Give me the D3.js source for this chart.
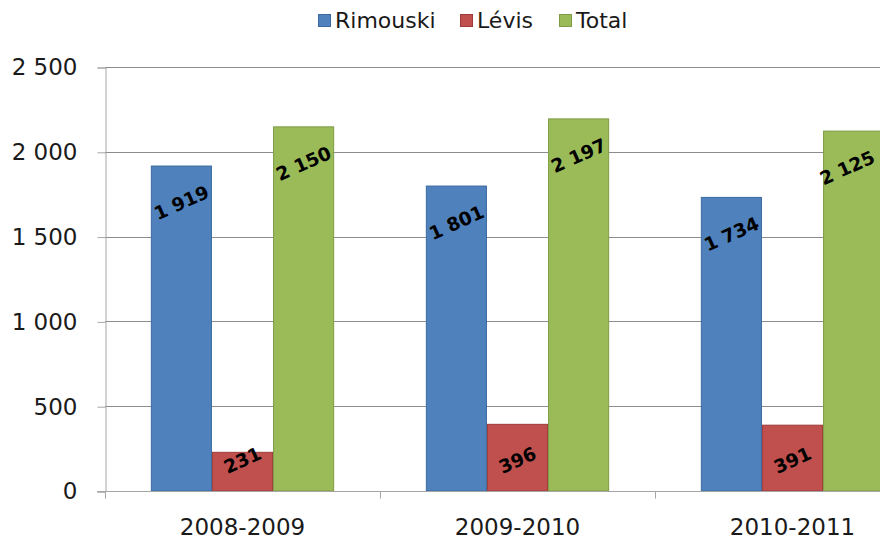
<!DOCTYPE html>
<html><head><meta charset="utf-8">
<script src="https://cdn.jsdelivr.net/npm/d3@7"></script>
<style>
html,body{margin:0;padding:0;background:#fff;overflow:hidden}
svg{display:block;font-family:"DejaVu Sans",sans-serif}
</style></head>
<body>
<script>
const categories = ["2008-2009", "2009-2010", "2010-2011"];
const seriesNames = ["Rimouski", "Lévis", "Total"];
const rimouski = [1919, 1801, 1734];
const levis = [231, 396, 391];
const total = [2150, 2197, 2125];
const yTicks = [0, 500, 1000, 1500, 2000, 2500];
const colors = ["#4F81BD", "#C0504D", "#9BBB59"];
const strokes = ["#3C6A9E", "#9E3B38", "#7E9B45"];

const W = 880, H = 541;
const fmt = v => d3.format(",")(v).replace(/,/g, " ");
const svg = d3.select("body").append("svg").attr("width", W).attr("height", H);

const x0 = 105, y0 = 491, yTop = 67;
const x = d3.scaleBand().domain(categories).range([x0, x0 + 275 * 3]).paddingInner(0).paddingOuter(0);
const xs = d3.scaleBand().domain(seriesNames).range([0, x.bandwidth()]).paddingInner(0).paddingOuter(0.75);
const y = d3.scaleLinear().domain([0, 2500]).range([y0, yTop]);

// gridlines
svg.append("g").selectAll("line").data(yTicks.slice(1)).join("line")
  .attr("x1", x0).attr("x2", W).attr("y1", d => Math.round(y(d)) + 0.5).attr("y2", d => Math.round(y(d)) + 0.5)
  .attr("stroke", "#8C8C8C").attr("stroke-width", 1);

// y axis
const yAxis = d3.axisLeft(y).tickValues(yTicks).tickSize(8).tickPadding(20).tickFormat(fmt);
const gy = svg.append("g").attr("transform", `translate(${x0 + 0.5},0.5)`).call(yAxis);
gy.select(".domain").attr("stroke", "#A6A6A6");
gy.selectAll(".tick line").attr("stroke", "#A6A6A6");
gy.selectAll(".tick text").attr("fill", "#1a1a1a").style("font-size", "23px")
  .style("font-family", "'DejaVu Sans',sans-serif");

// bars
const data = categories.map((c, i) => ({c, vals: [rimouski[i], levis[i], total[i]]}));
const groups = svg.append("g").selectAll("g").data(data).join("g")
  .attr("transform", d => `translate(${x(d.c)},0)`);
groups.selectAll("rect").data(d => d.vals.map((v, j) => ({v, s: seriesNames[j], j}))).join("rect")
  .attr("x", d => xs(d.s) + 0.5).attr("width", xs.bandwidth() - 1)
  .attr("y", d => y(d.v) + 0.5).attr("height", d => y0 - y(d.v) - 0.5)
  .attr("fill", d => colors[d.j]).attr("stroke", d => strokes[d.j]).attr("stroke-width", 1);

// x axis
const gx = svg.append("g").attr("transform", `translate(0,${y0 + 0.5})`);
gx.append("line").attr("x1", x0 - 8).attr("x2", W).attr("stroke", "#A6A6A6");
gx.selectAll("line.tk").data(categories).join("line").attr("class", "tk")
  .attr("x1", d => x(d) + 0.5).attr("x2", d => x(d) + 0.5).attr("y1", 0).attr("y2", 7)
  .attr("stroke", "#A6A6A6");
gx.selectAll("text").data(categories).join("text")
  .attr("x", d => x(d) + x.bandwidth() / 2).attr("y", 43)
  .attr("text-anchor", "middle").attr("fill", "#1a1a1a").style("font-size", "23px").text(d => d);

// data labels
const labels = groups.selectAll("text").data(d => d.vals.map((v, j) => ({v, s: seriesNames[j], j}))).join("text")
  .attr("transform", d => {
    const cx = xs(d.s) + xs.bandwidth() / 2;
    const cy = Math.min(y(d.v) + 37, y0 - 31);
    return `translate(${cx},${cy}) rotate(-24)`;
  })
  .attr("text-anchor", "middle").attr("dy", "0.36em")
  .style("font-size", "18.5px").style("font-weight", "bold").attr("fill", "#000")
  .text(d => fmt(d.v));
// keep labels inside the visible area
labels.each(function(d) {
  const r = this.getBoundingClientRect();
  const over = r.right - (W - 2);
  if (over > 0) {
    const cx = xs(d.s) + xs.bandwidth() / 2 - over;
    const cy = Math.min(y(d.v) + 37, y0 - 31);
    d3.select(this).attr("transform", `translate(${cx},${cy}) rotate(-24)`);
  }
});

// legend
const legX = [318, 460, 559];
const leg = svg.append("g").selectAll("g").data(seriesNames).join("g")
  .attr("transform", (d, i) => `translate(${legX[i]},14)`);
leg.append("rect").attr("width", 12).attr("height", 12).attr("x", 0.5).attr("y", 0.5)
  .attr("fill", (d, i) => colors[i]).attr("stroke", (d, i) => strokes[i]);
leg.append("text").attr("x", 17).attr("y", 14).style("font-size", "22px").attr("fill", "#1a1a1a").text(d => d);
</script>
</body></html>
